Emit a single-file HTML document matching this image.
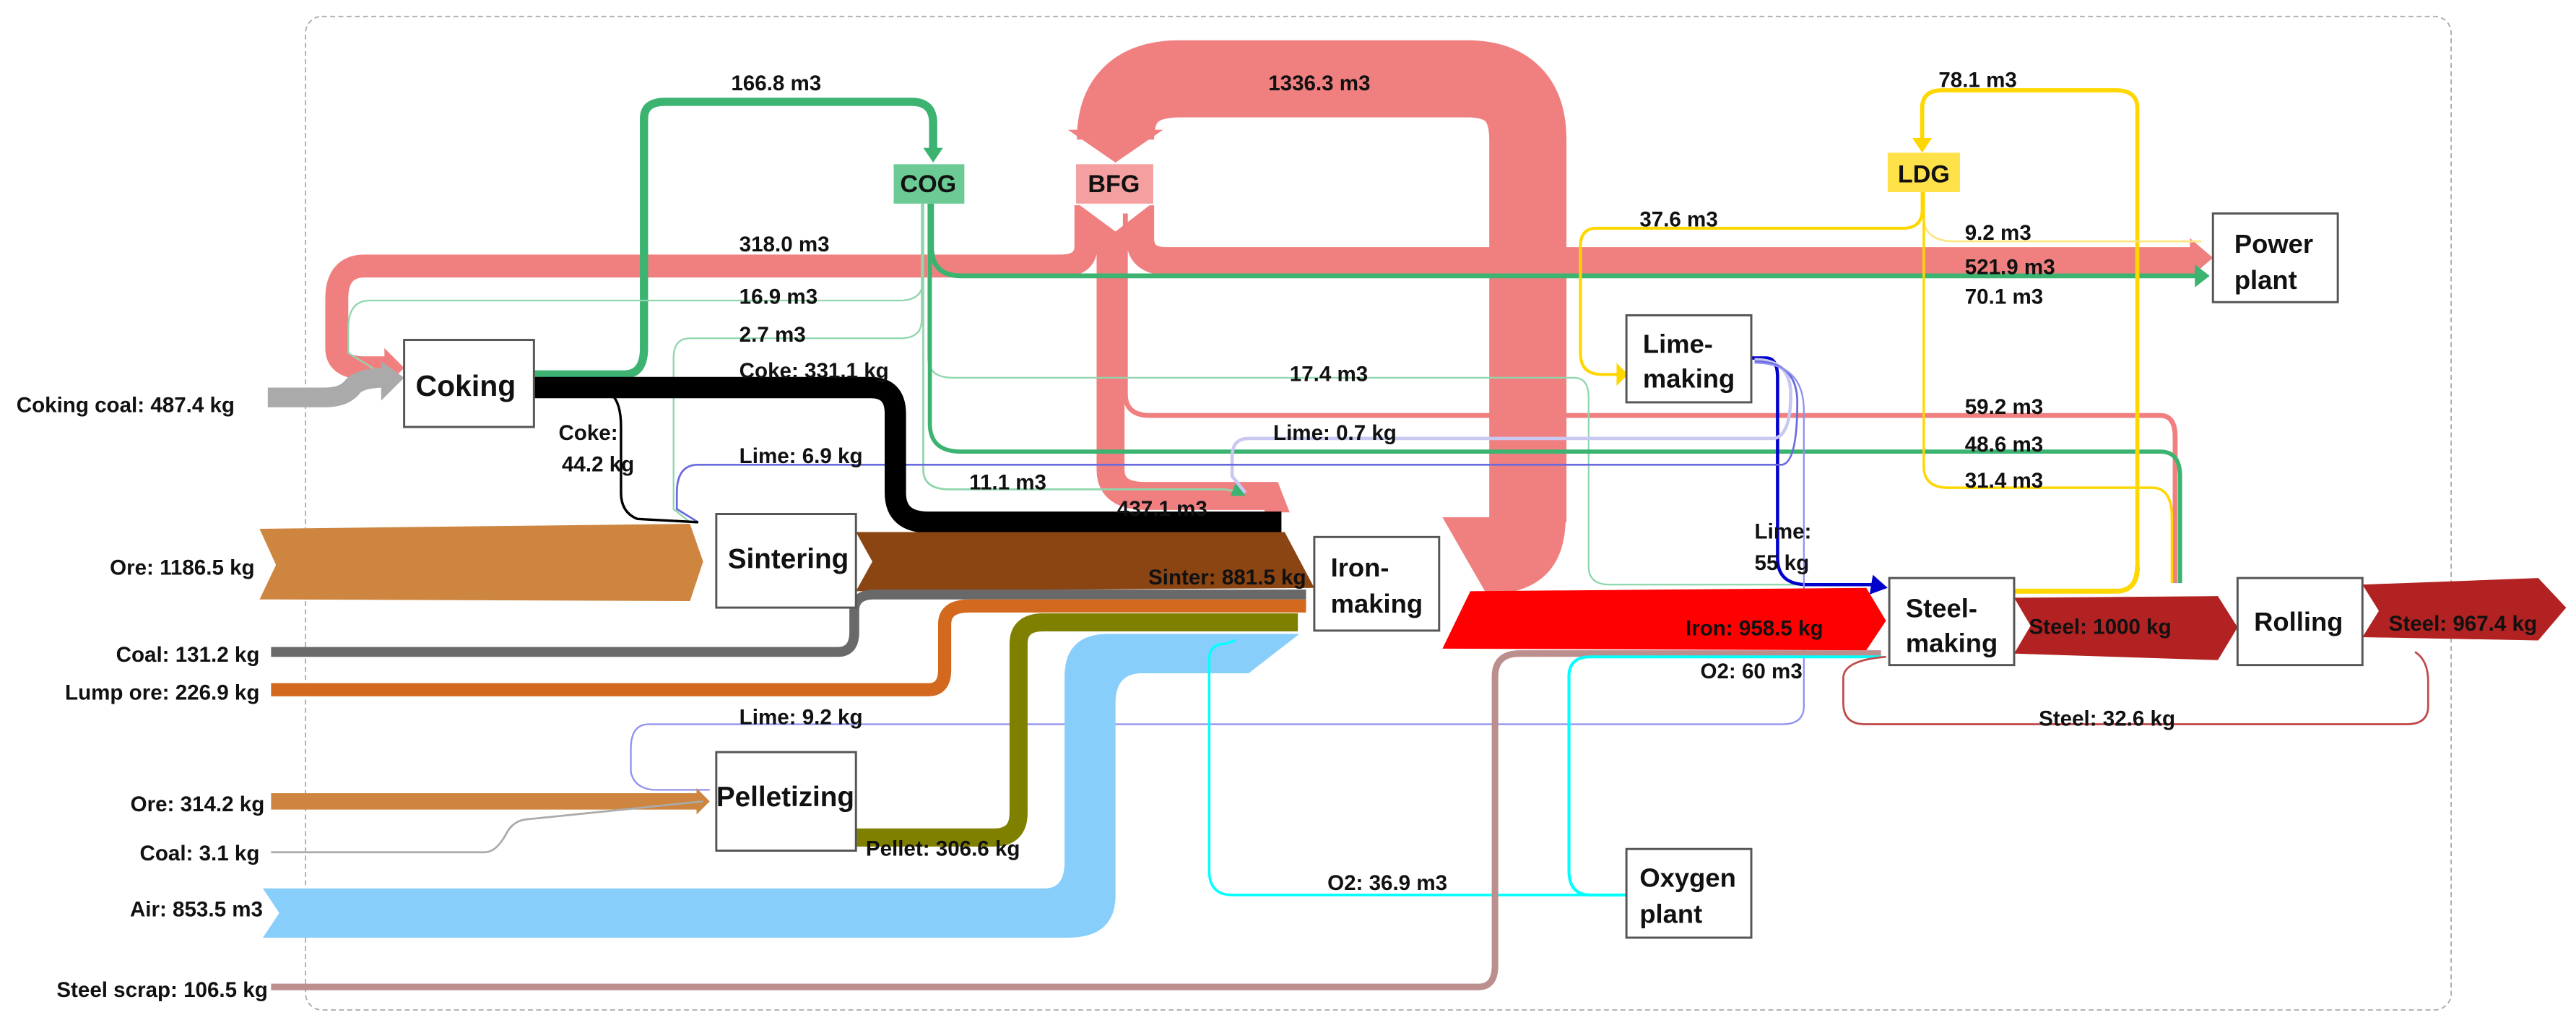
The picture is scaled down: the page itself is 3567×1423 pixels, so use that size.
<!DOCTYPE html>
<html><head><meta charset="utf-8"><style>
html,body{margin:0;padding:0;background:#fff}
svg{display:block}
text{font-family:"Liberation Sans Narrow","Liberation Sans",sans-serif;font-weight:bold;fill:#111}
.l{font-size:13px}
.n{font-size:16px}
</style></head><body>
<svg width="3567" height="1423" viewBox="0 0 1568 626" preserveAspectRatio="none" xmlns="http://www.w3.org/2000/svg">
<rect x="186" y="10" width="1306" height="605" rx="10" fill="none" stroke="#aaa" stroke-width="0.8" stroke-dasharray="3,2"/>

<!-- big BFG loop -->
<path d="M930,318 L930,85 Q930,48 893,48 L718,48 Q679,48 679,85" fill="none" stroke="#f08080" stroke-width="47"/>
<polygon points="650,79 708,79 679,99" fill="#f08080"/>
<path d="M878,315 L953,315 Q953,352 922,360 L905,362 Z" fill="#f08080"/>
<!-- BFG 318 to coking -->
<path d="M661,125 L661,150 Q661,162 645,162 L222,162 Q205,162 205,182 L205,212 Q205,224 222,224 L236,224" fill="none" stroke="#f08080" stroke-width="14"/>
<polygon points="234,212 246,224 234,236" fill="#f08080"/>
<!-- BFG to power plant -->
<path d="M694,125 L694,145 Q694,159 710,159 L1335,159" fill="none" stroke="#f08080" stroke-width="17"/>
<polygon points="1333,145 1347,157 1333,169" fill="#f08080"/>
<!-- BFG 437.1 -->
<path d="M676,125 L676,286 Q676,302 697,302 L778,302" fill="none" stroke="#f08080" stroke-width="17"/>
<polygon points="765,294 778,294 785,312 770,312" fill="#f08080"/>
<!-- white notch under BFG -->
<polygon points="656,124 701,124 679,141" fill="#fff"/>
<!-- BFG 59.2 -->
<path d="M685,130 L685,240 Q685,253 700,253 L1315,253 Q1324,253 1324,266 L1324,355" fill="none" stroke="#f08080" stroke-width="3"/>

<!-- COG -->
<path d="M325,228 L380,228 Q392,228 392,212 L392,72 Q392,62 405,62 L555,62 Q568,62 568,75 L568,92" fill="none" stroke="#3cb371" stroke-width="5"/>
<polygon points="562,90 574,90 568,99" fill="#3cb371"/>
<path d="M567,124 L567,150 Q567,168 585,168 L1337,168" fill="none" stroke="#3cb371" stroke-width="3"/>
<polygon points="1336,161 1345,168 1336,175" fill="#3cb371"/>
<path d="M562,124 L562,170 Q562,183 548,183 L225,183 Q212,183 212,200 L212,215 L230,226" fill="none" stroke="#8fd6ad" stroke-width="1"/>
<path d="M561,124 L561,195 Q561,206 548,206 L420,206 Q410,206 410,218 L410,310 L420,318" fill="none" stroke="#8fd6ad" stroke-width="1"/>
<path d="M565,124 L565,218 Q565,230 580,230 L958,230 Q967,230 967,242 L967,345 Q967,356 980,356 L1140,356" fill="none" stroke="#8fd6ad" stroke-width="1"/>
<path d="M566,124 L566,258 Q566,275 585,275 L1315,275 Q1327,275 1327,290 L1327,355" fill="none" stroke="#3cb371" stroke-width="2.5"/>
<path d="M562,124 L562,286 Q562,298 578,298 L745,298 L758,300" fill="none" stroke="#8fd6ad" stroke-width="1.2"/>
<polygon points="753,292 758,302 749,302" fill="#3cb371"/>

<!-- LDG -->
<path d="M1301,345 L1301,66 Q1301,55 1288,55 L1182,55 Q1170,55 1170,66 L1170,86" fill="none" stroke="#ffd700" stroke-width="2.5"/>
<path d="M1226,360 L1288,360 Q1301,360 1301,345" fill="none" stroke="#ffd700" stroke-width="3"/>
<polygon points="1164,84 1176,84 1170,93" fill="#ffd700"/>
<path d="M1170,117 L1170,128 Q1170,139 1158,139 L972,139 Q962,139 962,150 L962,215 Q962,228 975,228 L985,228" fill="none" stroke="#ffd700" stroke-width="1.8"/>
<polygon points="984,221 991,228 984,235" fill="#ffd700"/>
<path d="M1171,117 L1171,135 Q1173,147 1190,147 L1340,147" fill="none" stroke="#ffe680" stroke-width="1.2"/>
<path d="M1171,117 L1171,284 Q1171,297 1186,297 L1310,297 Q1322,297 1322,315 L1322,355" fill="none" stroke="#ffd700" stroke-width="1.5"/>

<!-- Lime -->
<path d="M1066,218 L1075,218 Q1082,218 1082,230 L1082,340 Q1082,356 1100,356 L1145,356" fill="none" stroke="#0000cd" stroke-width="2"/>
<polygon points="1140,350 1149,358 1138,362" fill="#0000cd"/>
<path d="M1068,219 Q1090,219 1090,240 Q1090,265 1080,267 L760,267 Q750,267 750,278 L750,290 L758,300" fill="none" stroke="#c8c8f0" stroke-width="2"/>
<path d="M1068,220 Q1094,220 1094,245 Q1094,281 1085,283 L425,283 Q412,283 412,300 L412,310 L425,318" fill="none" stroke="#6a6ae0" stroke-width="1.2"/>
<path d="M1068,221 Q1098,221 1098,250 L1098,430 Q1098,441 1085,441 L395,441 Q384,441 384,456 L384,470 Q386,480 398,481 L432,481" fill="none" stroke="#9090f0" stroke-width="1"/>

<!-- Coking coal input -->
<path d="M163,242 L198,242 Q210,242 215,235 Q220,230 235,230" fill="none" stroke="#aaa" stroke-width="12"/>
<polygon points="232,220 246,230 232,244" fill="#aaa"/>
<!-- Coke -->
<path d="M325,236 L530,236 Q545,236 545,252 L545,300 Q545,318 565,318 L780,318" fill="none" stroke="#000" stroke-width="13"/>
<path d="M372,240 Q378,245 378,260 L378,300 Q378,312 388,316 L425,318" fill="none" stroke="#000" stroke-width="1.5"/>
<!-- Ore 1186.5 -->
<polygon points="158,322 420,319 428,342 420,366 158,365 168,344" fill="#cd853f"/>
<!-- Sinter -->
<polygon points="521,324 782,324 800,358 521,360 531,342" fill="#8b4513"/>
<!-- coal 131.2 -->
<path d="M165,397 L510,397 Q520,397 520,385 L520,372 Q520,362 532,362 L795,362" fill="none" stroke="#696969" stroke-width="6"/>
<!-- lump ore -->
<path d="M165,420 L565,420 Q575,420 575,408 L575,380 Q575,369 590,369 L795,369" fill="none" stroke="#d2691e" stroke-width="8"/>
<!-- pellet -->
<path d="M521,510 L605,510 Q620,510 620,495 L620,392 Q620,379 635,379 L790,379" fill="none" stroke="#808000" stroke-width="11"/>
<!-- air -->
<path d="M160,541 L636,541 Q648,541 648,525 L648,412 Q648,386 675,386 L791,386 L760,410 L695,410 Q679,410 679,428 L679,545 Q679,571 650,571 L160,571 L170,556 Z" fill="#87cefa"/>
<!-- O2 36.9 -->
<path d="M990,545 L750,545 Q736,545 736,530 L736,402 Q736,392 746,392 L752,390" fill="none" stroke="#00ffff" stroke-width="1.5"/>
<!-- Ore 314.2 -->
<path d="M165,488 L425,488" fill="none" stroke="#cd853f" stroke-width="10"/>
<polygon points="424,480 432,488 424,496" fill="#cd853f"/>
<!-- coal 3.1 -->
<path d="M165,519 L295,519 Q302,519 308,508 Q312,500 320,499 L428,488" fill="none" stroke="#aaa" stroke-width="1.2"/>
<!-- Steel scrap -->
<path d="M165,601 L900,601 Q910,601 910,588 L910,412 Q910,398 925,398 L1145,398" fill="none" stroke="#bc8f8f" stroke-width="4"/>
<!-- O2 60 -->
<path d="M990,545 L968,545 Q955,545 955,530 L955,412 Q955,400 968,400 L1145,400" fill="none" stroke="#00ffff" stroke-width="1.8"/>
<!-- Iron -->
<polygon points="878,395 895,360 1136,358 1148,378 1136,396" fill="#ff0000"/>
<!-- Steel 1000 -->
<polygon points="1226,364 1350,363 1362,382 1350,402 1226,398 1236,381" fill="#b22222"/>
<!-- Steel 967.4 -->
<polygon points="1438,356 1545,352 1562,370 1545,390 1438,388 1448,372" fill="#b22222"/>
<!-- Steel 32.6 loop -->
<path d="M1470,397 Q1478,402 1478,415 L1478,430 Q1478,441 1465,441 L1135,441 Q1122,441 1122,428 L1122,413 Q1122,402 1148,400" fill="none" stroke="#c04a4a" stroke-width="1.2"/>

<!-- gas nodes -->
<rect x="544" y="100" width="43" height="24" fill="#6ccb95"/>
<text x="565" y="117" class="n" text-anchor="middle" style="font-size:15px">COG</text>
<rect x="655" y="100" width="47" height="24" fill="#f4a0a0"/>
<text x="678" y="117" class="n" text-anchor="middle" style="font-size:15px">BFG</text>
<rect x="1149" y="93" width="44" height="24" fill="#ffe14a"/>
<text x="1171" y="111" class="n" text-anchor="middle" style="font-size:15px">LDG</text>

<!-- process nodes -->
<g fill="#fff" stroke="#555" stroke-width="1.3">
<rect x="246" y="207" width="79" height="53"/>
<rect x="436" y="313" width="85" height="57"/>
<rect x="800" y="327" width="76" height="57"/>
<rect x="436" y="458" width="85" height="60"/>
<rect x="990" y="192" width="76" height="53"/>
<rect x="1150" y="352" width="76" height="53"/>
<rect x="1362" y="352" width="76" height="53"/>
<rect x="1347" y="130" width="76" height="54"/>
<rect x="990" y="517" width="76" height="54"/>
</g>
<text x="253" y="241" class="n" style="font-size:18px">Coking</text>
<text x="443" y="346" class="n" style="font-size:17px">Sintering</text>
<text x="810" y="351" class="n">Iron-</text>
<text x="810" y="373" class="n">making</text>
<text x="436" y="491" class="n" style="font-size:17px">Pelletizing</text>
<text x="1000" y="215" class="n">Lime-</text>
<text x="1000" y="236" class="n">making</text>
<text x="1160" y="376" class="n">Steel-</text>
<text x="1160" y="397" class="n">making</text>
<text x="1372" y="384" class="n">Rolling</text>
<text x="1360" y="154" class="n">Power</text>
<text x="1360" y="176" class="n">plant</text>
<text x="998" y="540" class="n">Oxygen</text>
<text x="998" y="562" class="n">plant</text>

<!-- labels -->
<g class="l">
<text x="10" y="251">Coking coal: 487.4 kg</text>
<text x="155" y="350" text-anchor="end">Ore: 1186.5 kg</text>
<text x="158" y="403" text-anchor="end">Coal: 131.2 kg</text>
<text x="158" y="426" text-anchor="end">Lump ore: 226.9 kg</text>
<text x="161" y="494" text-anchor="end">Ore: 314.2 kg</text>
<text x="158" y="524" text-anchor="end">Coal: 3.1 kg</text>
<text x="160" y="558" text-anchor="end">Air: 853.5 m3</text>
<text x="163" y="607" text-anchor="end">Steel scrap: 106.5 kg</text>
<text x="445" y="55">166.8 m3</text>
<text x="772" y="55">1336.3 m3</text>
<text x="1180" y="53">78.1 m3</text>
<text x="998" y="138">37.6 m3</text>
<text x="1196" y="146">9.2 m3</text>
<text x="1196" y="167">521.9 m3</text>
<text x="1196" y="185">70.1 m3</text>
<text x="450" y="153">318.0 m3</text>
<text x="450" y="185">16.9 m3</text>
<text x="450" y="208">2.7 m3</text>
<text x="450" y="230">Coke: 331.1 kg</text>
<text x="340" y="268">Coke:</text>
<text x="342" y="287">44.2 kg</text>
<text x="450" y="282">Lime: 6.9 kg</text>
<text x="590" y="298">11.1 m3</text>
<text x="680" y="314">437.1 m3</text>
<text x="795" y="356" text-anchor="end">Sinter: 881.5 kg</text>
<text x="785" y="232">17.4 m3</text>
<text x="775" y="268">Lime: 0.7 kg</text>
<text x="1068" y="328">Lime:</text>
<text x="1068" y="347">55 kg</text>
<text x="1196" y="252">59.2 m3</text>
<text x="1196" y="275">48.6 m3</text>
<text x="1196" y="297">31.4 m3</text>
<text x="1026" y="387">Iron: 958.5 kg</text>
<text x="1035" y="413">O2: 60 m3</text>
<text x="1235" y="386">Steel: 1000 kg</text>
<text x="1454" y="384">Steel: 967.4 kg</text>
<text x="1241" y="442">Steel: 32.6 kg</text>
<text x="450" y="441">Lime: 9.2 kg</text>
<text x="527" y="521">Pellet: 306.6 kg</text>
<text x="808" y="542">O2: 36.9 m3</text>
</g>
</svg>
</body></html>
